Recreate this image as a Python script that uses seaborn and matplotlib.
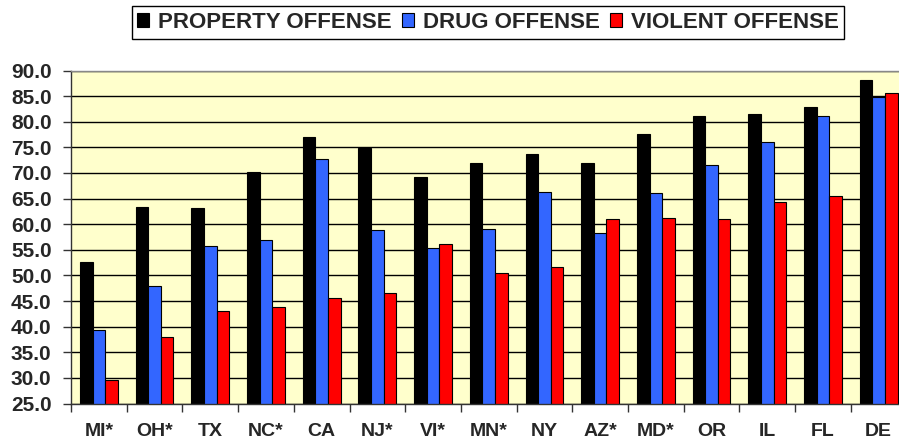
import pandas as pd
import matplotlib
matplotlib.use("Agg")
import matplotlib.pyplot as plt
import seaborn as sns
from matplotlib.ticker import FixedLocator

states = ["MI*", "OH*", "TX", "NC*", "CA", "NJ*", "VI*", "MN*", "NY", "AZ*", "MD*", "OR", "IL", "FL", "DE"]
property_offense = [52.7, 63.4, 63.2, 70.2, 77.0, 74.8, 69.2, 72.0, 73.7, 72.0, 77.6, 81.1, 81.5, 82.9, 88.1]
drug_offense = [39.3, 48.0, 55.7, 56.9, 72.8, 58.8, 55.4, 59.1, 66.2, 58.2, 66.0, 71.5, 76.0, 81.1, 84.8]
violent_offense = [29.5, 37.9, 43.0, 43.8, 45.5, 46.5, 56.1, 50.4, 51.6, 61.0, 61.2, 61.1, 64.3, 65.5, 85.6]
series_names = ["PROPERTY OFFENSE", "DRUG OFFENSE", "VIOLENT OFFENSE"]
colors = ["#000000", "#3366FF", "#FF0000"]

rows = []
for name, vals in zip(series_names, [property_offense, drug_offense, violent_offense]):
    for st, v in zip(states, vals):
        rows.append({"state": st, "offense": name, "value": v})
df = pd.DataFrame(rows)

sns.set_style("white")
plt.rcParams["font.family"] = ["Liberation Sans", "DejaVu Sans"]
plt.rcParams["font.weight"] = "bold"

fig = plt.figure(figsize=(8.99, 4.42), dpi=100)
ax = fig.add_axes([71 / 899, 38.5 / 442, 835.5 / 899, 333 / 442])
ax.set_facecolor("#FFFFCC")

sns.barplot(data=df, x="state", y="value", hue="offense", palette=colors,
            saturation=1, width=0.68, edgecolor="black", linewidth=0.8, ax=ax)

ax.set_ylim(25, 90)
ax.set_xlim(-0.5, len(states) - 0.5)
yt = [25 + 5 * i for i in range(14)]
ax.set_yticks(yt)
ax.set_yticklabels([f"{v:.1f}" for v in yt], fontsize=15, fontweight="bold")
ax.set_xticks(range(len(states)))
ax.set_xticklabels(states, fontsize=14, fontweight="bold")
ax.xaxis.set_minor_locator(FixedLocator([i + 0.5 for i in range(-1, len(states))]))
ax.tick_params(axis="x", which="major", length=0, pad=14)
ax.tick_params(axis="x", which="minor", length=6, width=1, color="#333333", direction="out", bottom=True)
ax.tick_params(axis="y", which="major", length=6, width=1, color="#333333", direction="out", left=True, pad=8)
ax.set_xlabel("")
ax.set_ylabel("")

ax.yaxis.grid(True, color="black", linewidth=1)
ax.set_axisbelow(True)
for side in ["left", "bottom"]:
    ax.spines[side].set_color("#333333")
    ax.spines[side].set_linewidth(1)
ax.spines["top"].set_color("#888888")
ax.spines["top"].set_linewidth(1)
ax.spines["right"].set_visible(False)

handles, labels = ax.get_legend_handles_labels()
ax.legend(handles, labels, loc="center", bbox_to_anchor=(488 / 899, 1 - 22.5 / 442),
          bbox_transform=fig.transFigure, ncol=3, frameon=True, fancybox=False,
          edgecolor="black", framealpha=1, prop={"size": 16, "weight": "bold"},
          handlelength=0.55, handleheight=0.55, handletextpad=0.4, columnspacing=0.45,
          borderpad=0.25, borderaxespad=0)

fig.savefig("out.png", dpi=100)
